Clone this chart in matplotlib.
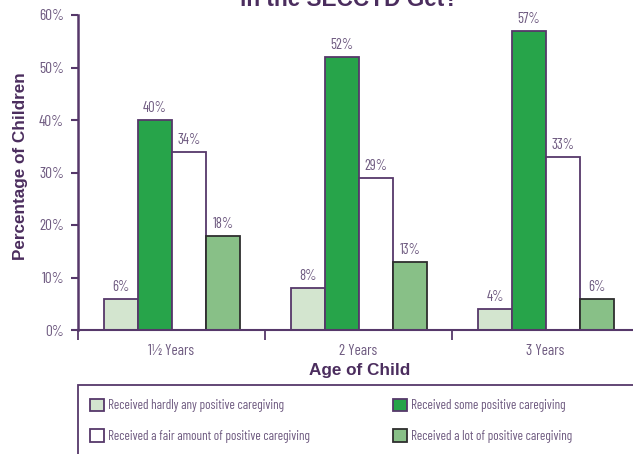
import numpy as np
import matplotlib.pyplot as plt
from matplotlib.patches import Rectangle
from matplotlib import font_manager

# data
ages = ['1½ Years', '2 Years', '3 Years']
hardly_any = [6, 8, 4]
some = [40, 52, 57]
fair_amount = [34, 29, 33]
a_lot = [18, 13, 6]
series_names = [
    'Received hardly any positive caregiving',
    'Received some positive caregiving',
    'Received a fair amount of positive caregiving',
    'Received a lot of positive caregiving',
]

PURPLE = '#56386a'
DARK_PURPLE = '#4b2d5e'
TICK_PURPLE = '#6e5a80'
FILLS = ['#d3e5cf', '#27a44a', '#ffffff', '#88c087']
EDGES = [PURPLE, PURPLE, PURPLE, '#2e2e2e']

names = {f.name for f in font_manager.fontManager.ttflist}
NARROW = next((n for n in ['Barlow Condensed', 'Roboto Condensed', 'Archivo Narrow',
                           'Liberation Sans Narrow'] if n in names), 'DejaVu Sans')
BOLD = 'Liberation Sans' if 'Liberation Sans' in names else 'DejaVu Sans'

W, H = 633, 454
fig = plt.figure(figsize=(W / 100, H / 100), dpi=100)
ax = fig.add_axes([78 / W, 1 - 330 / H, 561 / W, 315 / H])

values = [hardly_any, some, fair_amount, a_lot]
x = np.arange(len(ages)) + 0.5
bw = 0.182
for k, vals in enumerate(values):
    pos = x + (k - 1.5) * bw + 0.003
    ax.bar(pos, vals, width=bw, color=FILLS[k], edgecolor=EDGES[k],
           linewidth=1.3, label=series_names[k], zorder=2)
    for p, v in zip(pos, vals):
        ax.text(p, v + 0.9, f'{v}%', ha='center', va='bottom',
                fontsize=10.5, family=NARROW, color=TICK_PURPLE)

ax.set_xlim(0, 3)
ax.set_ylim(0, 60)
ax.set_yticks(range(0, 61, 10))
ax.set_yticklabels([f'{v}%' for v in range(0, 61, 10)], family=NARROW,
                   fontsize=11, color=TICK_PURPLE)
ax.set_xticks([0, 1, 2, 3])
ax.set_xticklabels([])
ax.set_xticks(x, minor=True)
ax.set_xticklabels(ages, minor=True, family=NARROW, fontsize=11, color=TICK_PURPLE)
ax.tick_params(axis='x', which='major', length=7, width=1.3, color=PURPLE, direction='out')
ax.tick_params(axis='x', which='minor', length=0, pad=10)
ax.tick_params(axis='y', length=5, width=1.5, color=PURPLE, pad=5)
for s in ['top', 'right']:
    ax.spines[s].set_visible(False)
ax.spines['left'].set_color(PURPLE)
ax.spines['left'].set_linewidth(1.8)
ax.spines['bottom'].set_color(PURPLE)
ax.spines['bottom'].set_linewidth(1.5)

fig.text(21 / W, 1 - 166 / H, 'Percentage of Children', rotation=90, ha='center',
         va='center', fontsize=12.3, fontweight='bold', family=BOLD, color=DARK_PURPLE)
fig.text(360 / W, 1 - 371 / H, 'Age of Child', ha='center', va='center',
         fontsize=12.3, fontweight='bold', family=BOLD, color=DARK_PURPLE)
fig.text(349 / W, 1 - 6 / H, 'in the SECCYD Get?', ha='center', va='baseline',
         fontsize=16.3, fontweight='bold', family=BOLD, color=DARK_PURPLE)

# legend box
fig.patches.append(Rectangle((78 / W, -0.05), 600 / W, 0.05 + 1 - 385 / H,
                             transform=fig.transFigure, facecolor='none',
                             edgecolor=PURPLE, linewidth=1.3))
handles, labels = ax.get_legend_handles_labels()
for cols, left in [((0, 2), 83), ((1, 3), 386)]:
    leg = fig.legend([handles[i] for i in cols], [labels[i] for i in cols],
                     loc='upper left', bbox_to_anchor=(left / W, 1 - 392 / H),
                     frameon=False, handlelength=1.1, handleheight=1.1,
                     handletextpad=0.3, labelspacing=1.25, borderpad=0,
                     prop={'family': NARROW, 'size': 9.5})
    for t in leg.get_texts():
        t.set_color(TICK_PURPLE)

fig.savefig('out.png', dpi=100)
